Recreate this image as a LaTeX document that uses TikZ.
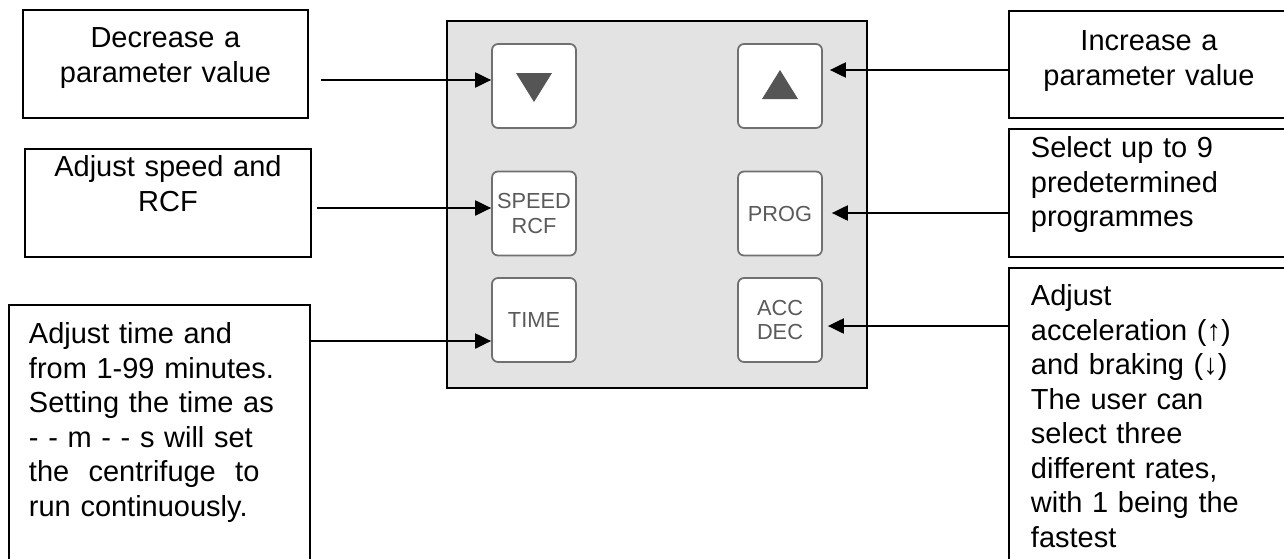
\documentclass[tikz,border=0pt]{standalone}
\usepackage{fontspec}
\setmainfont{Liberation Sans}
\usepackage{tikz}
\usetikzlibrary{arrows.meta}

\definecolor{panelgray}{HTML}{E3E3E3}
\definecolor{keygray}{HTML}{707070}
\definecolor{keytext}{HTML}{5A5A5A}
\definecolor{keydark}{HTML}{555555}

\newcommand{\notesize}{\fontsize{16.5}{19.6}\selectfont}
\newcommand{\keysize}{\fontsize{12.4}{14.2}\selectfont}

\begin{document}
\begin{tikzpicture}[x=0.02cm, y=-0.02cm,
        note/.style={draw, line width=1.1pt, inner ysep=0pt, anchor=north west, font=\notesize},
        key/.style={draw=keygray, fill=white, line width=1pt, rounded corners=0.12cm,
            minimum size=1.68cm, inner sep=0pt, align=center, text=keytext, font=\keysize},
        pointer/.style={-{Triangle[length=0.32cm, width=0.3cm]}, line width=1.2pt}]

            \useasboundingbox (0,0) rectangle (1284,558);

            \node[draw, line width=1.1pt, fill=panelgray, minimum width=8.4cm, minimum height=7.34cm, inner sep=0pt] at (657,204.5) (pad) {};

            \node[key] at (534,86)    (down)  {};
            \node[key] at (780,86)    (up)    {};
            \node[key] at (534,213.5) (speed) {SPEED\\RCF};
            \node[key] at (780,213.5) (prog)  {PROG};
            \node[key] at (534,320)   (time)  {TIME};
            \node[key] at (780,320)   (acc)   {ACC\\DEC};

            \fill[keydark] ([shift={(-18,-13)}]down.center) -- ++(36,0) -- ++(-18,29) -- cycle;
            \fill[keydark] ([shift={(-18,13)}]up.center) -- ++(36,0) -- ++(-18,-29) -- cycle;

            \node[note, inner xsep=0pt, text width=5.7cm, align=center, text height=0.76cm, text depth=1.4cm] at (22,9) (decnote) {Decrease a\\parameter value};
            \node[note, inner xsep=0pt, text width=5.72cm, align=center, text height=0.56cm, text depth=1.6cm] at (24,148) (speednote) {Adjust speed and\\RCF};
            \node[note, inner xsep=0.4cm, text width=5.22cm, align=left, text height=0.78cm, text depth=6cm] at (8,304) (timenote) {Adjust time and\\from 1-99 minutes.\\Setting the time as\\- - m - - s will set\\the\ \ centrifuge\ \ to\\run continuously.};
            \node[note, inner xsep=0pt, text width=5.6cm, align=center, text height=0.8cm, text depth=1.34cm] at (1008,10) (incnote) {Increase a\\parameter value};
            \node[note, inner xsep=0.44cm, text width=4.72cm, align=left, text height=0.58cm, text depth=1.98cm] at (1008,128) (prognote) {Select up to 9\\predetermined\\programmes};
            \node[note, inner xsep=0.44cm, text width=4.72cm, align=left, text height=0.76cm, text depth=6cm] at (1008,267) (accnote) {Adjust\\acceleration (↑)\\and braking (↓)\\The user can\\select three\\different rates,\\with 1 being the\\fastest};

            \draw[pointer] (decnote.east |- 0,80) ++(12,0) -- (down.west |- 0,80);
            \draw[pointer] (speednote.east |- 0,208) ++(5,0) -- (speed.west |- 0,208);
            \draw[pointer] (timenote.east |- 0,341) -- (time.west |- 0,341);
            \draw[pointer, shorten >=0.14cm] (incnote.west |- 0,70) -- (up.east |- 0,70);
            \draw[pointer, shorten >=0.18cm] (prognote.west |- 0,213) -- (prog.east |- 0,213);
            \draw[pointer, shorten >=0.1cm] (accnote.west |- 0,326) -- (acc.east |- 0,326);
        \end{tikzpicture}
\end{document}
